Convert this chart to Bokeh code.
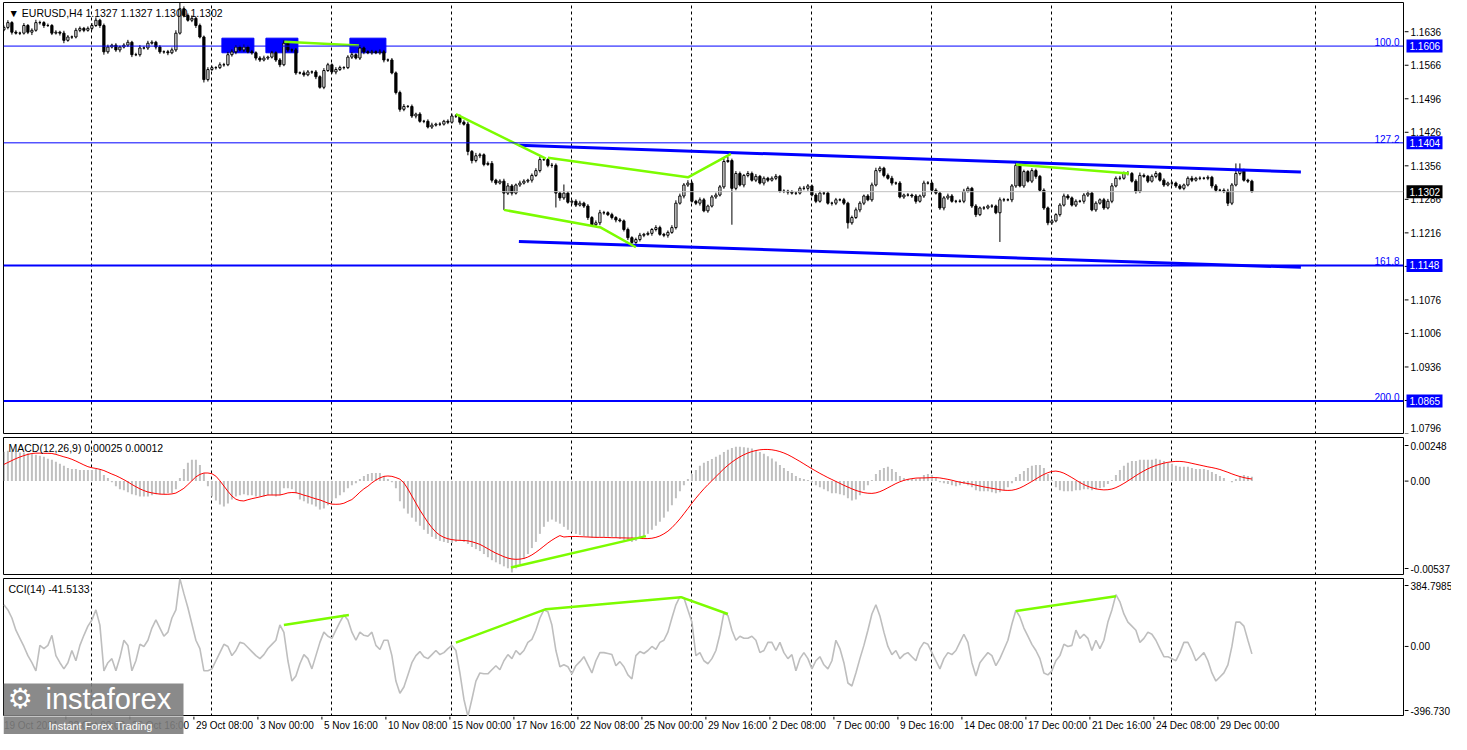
from bokeh.plotting import figure
from bokeh.models import Range1d, FixedTicker, Span, Label
from bokeh.layouts import column, row
from bokeh.core.properties import value
from bokeh.embed import file_html
from bokeh.resources import INLINE

# ---------------- data (prices as pips above 1.1000) ----------------
first_open_pips = 640
close_pips = [
    645,655,635,633,633,649,635,639,655,655,649,649,633,635,633,618,625,625,639,643,
    639,643,649,660,649,594,604,608,598,604,608,614,588,588,602,602,612,614,604,594,
    594,592,598,633,684,670,660,664,649,625,536,557,561,561,567,567,588,594,604,598,
    604,594,592,581,577,581,583,592,577,567,612,598,598,550,550,546,552,552,542,520,
    555,567,552,557,561,561,583,588,581,602,594,592,594,592,594,577,577,550,509,474,
    480,480,460,464,449,449,437,441,443,443,449,447,460,460,447,443,386,367,377,379,
    359,361,326,320,324,299,314,299,316,320,324,326,336,346,369,369,357,357,299,289,
    299,280,282,274,278,272,248,233,237,258,258,254,248,243,241,223,206,196,202,211,
    213,215,223,227,213,211,217,227,278,293,316,320,282,278,285,262,272,291,295,312,
    365,367,309,340,316,336,340,326,334,320,330,326,330,334,303,303,301,299,299,309,
    309,314,295,282,299,299,278,278,285,285,278,237,248,264,278,293,285,316,346,351,
    336,330,320,320,291,295,295,293,282,293,320,320,305,299,268,289,293,282,282,282,
    303,309,272,254,268,268,272,272,258,285,285,285,314,357,314,344,324,346,334,305,
    268,237,241,254,274,293,289,274,282,282,295,299,264,278,285,268,282,314,330,330,
    340,340,324,303,336,334,324,334,340,326,316,320,320,314,309,316,330,326,330,330,
    330,332,314,305,305,303,278,316,340,346,326,324,302]
upper_wick_pips = [
    4,5,3,4,3,5,3,4,6,4,3,4,3,4,3,5,4,3,5,4,
    3,4,5,6,3,4,5,3,4,3,4,5,3,4,6,3,5,4,3,4,
    3,4,5,6,12,5,4,6,3,4,3,5,4,3,5,4,6,5,4,3,
    5,3,4,3,4,5,3,4,3,4,6,5,3,4,3,5,4,3,4,3,
    5,4,3,5,4,3,4,5,3,6,4,3,4,3,5,4,3,4,3,4,
    5,3,4,3,4,3,4,5,3,4,3,4,5,4,3,4,5,3,6,4,
    3,4,5,3,4,5,6,4,3,5,4,3,4,5,6,4,3,5,4,3,
    18,4,3,4,5,3,4,3,5,6,4,3,4,3,4,3,4,3,4,5,
    3,4,3,5,4,3,4,5,6,5,4,6,4,3,5,4,3,4,5,4,
    6,8,4,5,4,3,5,4,5,3,4,3,4,5,3,4,3,4,3,4,
    5,4,3,4,5,3,4,3,4,3,4,3,4,5,4,3,4,5,6,4,
    3,4,5,3,4,3,4,3,4,3,5,4,3,4,3,4,5,4,3,4,
    5,4,3,4,3,4,3,4,3,5,4,3,4,6,5,4,3,5,4,3,
    4,3,4,3,4,5,4,3,4,3,4,5,3,4,3,4,5,6,4,5,
    4,5,3,4,6,4,3,4,5,3,4,3,4,3,4,3,4,5,3,4,
    3,4,3,4,3,4,5,4,21,15,4,3,3]
lower_wick_pips = [
    3,4,5,3,4,3,4,6,3,4,5,3,4,3,5,6,3,4,3,4,
    4,3,4,3,5,6,4,3,4,5,3,4,5,3,4,3,4,3,5,4,
    4,5,3,4,3,4,3,4,5,3,6,4,3,4,3,4,3,4,5,3,
    4,3,4,5,4,3,4,3,4,5,3,4,5,4,3,4,3,4,5,3,
    4,3,4,5,3,4,3,4,3,4,5,3,4,3,4,5,4,3,4,5,
    4,3,4,5,3,4,3,4,3,4,3,4,3,4,5,3,8,6,4,5,
    4,3,5,4,3,35,4,5,3,4,3,4,5,3,4,3,4,5,30,6,
    4,3,5,4,3,4,5,4,3,5,4,3,4,5,3,4,5,4,3,4,
    4,3,5,4,3,4,5,3,4,3,5,4,3,4,5,3,4,3,4,3,
    4,3,76,4,3,5,4,3,4,3,5,4,3,4,3,4,5,3,4,3,
    4,5,3,4,3,4,3,5,4,3,4,12,4,3,5,4,3,4,3,4,
    4,3,5,4,3,4,3,4,5,3,4,3,4,3,4,5,4,3,4,3,
    4,3,4,5,3,4,3,4,3,61,4,3,5,4,3,4,3,4,5,3,
    4,5,4,3,4,3,4,3,4,3,5,4,3,4,3,4,3,4,3,4,
    3,4,3,5,4,3,4,3,4,3,4,3,5,4,3,4,3,4,3,4,
    3,4,5,4,3,4,6,4,3,4,3,4,2]

# MACD (units of 1e-5)
macd_main_e5 = [
    167,173,173,167,162,162,159,156,150,144,138,127,121,110,98,87,75,69,69,63,
    63,63,63,69,69,35,17,-6,-29,-46,-52,-63,-75,-81,-87,-87,-87,-81,-75,-75,
    -75,-69,-69,-46,17,69,104,121,121,92,46,-29,-87,-110,-133,-144,-127,-104,-87,-81,
    -75,-81,-81,-87,-87,-87,-81,-81,-87,-81,-40,-40,-46,-69,-104,-115,-127,-133,-144,-162,
    -156,-138,-115,-98,-81,-63,-40,-23,-12,12,29,40,46,46,46,29,12,-6,-40,-115,
    -156,-185,-208,-231,-254,-277,-300,-317,-329,-340,-346,-352,-352,-346,-340,-346,-358,-375,-387,-398,
    -415,-433,-450,-462,-473,-485,-496,-520,-496,-473,-444,-415,-381,-346,-300,-260,-231,-219,-231,-242,
    -260,-277,-288,-300,-306,-312,-317,-323,-323,-317,-317,-317,-317,-323,-329,-335,-340,-346,-340,-329,
    -317,-300,-277,-254,-231,-208,-173,-138,-98,-58,-23,12,40,63,87,104,115,125,138,150,
    165,178,188,195,196,193,190,185,176,166,156,142,128,112,92,75,58,46,29,17,
    12,6,-6,-23,-35,-46,-58,-69,-69,-75,-81,-98,-110,-104,-81,-52,-23,6,40,63,
    75,81,69,52,29,17,12,12,12,17,35,40,35,17,-6,-12,-17,-23,-29,-23,
    -17,-23,-35,-52,-58,-58,-58,-63,-69,-63,-52,-35,-12,23,40,58,75,87,92,92,
    75,40,6,-35,-52,-58,-58,-58,-52,-52,-46,-46,-52,-46,-40,-35,-17,6,35,63,
    87,104,115,115,121,121,121,121,127,121,115,104,98,87,81,81,81,75,69,69,
    69,63,52,40,29,17,0,-6,12,29,35,29,25]
macd_signal_e5 = [
    95,106,117,128,137,145,152,157,159,159,158,158,157,152,145,138,132,124,114,103,
    92,82,76,72,67,60,50,40,31,20,8,-5,-19,-32,-44,-54,-62,-67,-71,-74,
    -75,-75,-73,-68,-55,-41,-20,2,24,38,46,46,42,28,2,-28,-58,-85,-103,-111,
    -113,-106,-100,-95,-90,-84,-79,-79,-79,-79,-74,-67,-65,-66,-72,-80,-86,-94,-101,-107,
    -116,-125,-131,-132,-131,-126,-115,-105,-85,-63,-44,-29,-10,6,18,27,29,27,20,11,
    -10,-45,-85,-125,-165,-200,-235,-265,-290,-308,-320,-328,-333,-336,-337,-338,-340,-345,-352,-360,
    -372,-385,-398,-410,-420,-430,-438,-443,-445,-444,-440,-432,-420,-405,-388,-370,-352,-336,-322,-310,
    -318,-316,-315,-315,-316,-317,-318,-319,-320,-320,-320,-321,-322,-322,-323,-323,-324,-324,-325,-326,
    -327,-327,-325,-320,-312,-300,-285,-265,-241,-215,-186,-156,-126,-97,-70,-44,-20,2,25,48,
    70,90,108,124,138,150,160,168,174,178,180,180,178,174,168,160,150,138,125,112,
    98,84,70,57,44,32,20,9,-2,-13,-24,-34,-44,-53,-60,-66,-69,-70,-67,-60,
    -50,-38,-26,-14,-4,4,10,14,17,18,18,19,20,20,18,14,10,5,-1,-6,
    -10,-14,-18,-23,-28,-33,-37,-41,-45,-49,-52,-53,-52,-47,-39,-28,-15,-2,12,26,
    38,48,55,57,53,45,33,20,6,-8,-20,-30,-38,-44,-48,-50,-49,-45,-37,-26,
    -13,1,16,31,45,58,70,80,89,96,102,107,110,112,112,110,106,101,96,91,
    86,81,77,72,66,58,50,41,33,26,20,15,12]

cci_values = [
    236,207,161,92,46,0,-52,-92,-138,6,-12,6,63,-52,-92,-127,-92,-23,-81,6,
    63,115,150,207,121,-138,-92,-69,-138,-63,35,6,-138,-81,12,0,35,104,150,104,
    58,81,161,207,384,299,219,127,35,-12,-138,-138,-127,-81,-35,12,0,-52,-23,23,
    17,-6,-29,-52,-69,-46,-12,12,35,122,80,-81,-196,-167,-98,-46,-69,-127,-52,23,
    81,58,46,92,138,178,150,81,35,81,63,58,81,6,-17,35,35,-52,-196,-265,
    -230,-161,-92,-52,-29,-58,-69,-46,-23,-46,-35,-12,6,-23,-150,-299,-396,-299,-196,-150,
    -155,-155,-132,-109,-132,-81,-46,-69,-23,-46,-23,23,40,92,161,207,196,121,-23,-115,
    -104,-115,-155,-109,-86,-58,-104,-150,-81,-35,-35,-40,-46,-109,-86,-115,-161,-184,-52,-29,
    -40,-23,0,-17,23,35,81,161,236,282,276,207,138,-52,-35,-81,-98,-69,-23,69,
    190,175,92,35,58,46,46,58,35,-35,-23,23,23,-23,23,-35,-69,-46,-138,-69,
    -35,-69,-127,-81,-58,-104,-127,-81,35,-12,-92,-207,-224,-150,-69,6,92,184,236,173,
    81,0,-46,-23,-69,-46,-35,-58,-81,-12,23,12,-35,-81,-127,-69,-35,-46,-23,23,
    69,23,-92,-167,-92,-63,-35,-52,-109,-69,-17,35,127,205,167,104,58,12,-23,-69,
    -150,-161,-138,-81,-52,12,0,6,92,46,69,46,-23,35,-12,35,138,207,293,253,
    184,138,115,92,23,46,81,69,35,-12,-58,-58,-69,-81,-35,23,23,-23,-81,-58,
    -35,-81,-150,-196,-173,-150,-104,0,138,138,115,35,-42]

price_ticks = [1.0796, 1.0866, 1.0936, 1.1006, 1.1076, 1.1146, 1.1216,
               1.1286, 1.1356, 1.1426, 1.1496, 1.1566, 1.1636]
fib_levels = [1.1606, 1.1404, 1.1148, 1.0865]
fib_names = ["100.0", "127.2", "161.8", "200.0"]
current_price = 1.1302
macd_lo, macd_hi = -0.00537, 0.00248
cci_lo, cci_hi = -396.730, 384.7985
title_text = "\u25BC EURUSD,H4  1.1327 1.1327 1.1300 1.1302"
macd_title = "MACD(12,26,9) 0.00025 0.00012"
cci_title = "CCI(14) -41.5133"

date_labels = ["19 Oct 2021", "22 Oct 00:00", "26 Oct 16:00", "29 Oct 08:00", "3 Nov 00:00",
               "5 Nov 16:00", "10 Nov 08:00", "15 Nov 00:00", "17 Nov 16:00", "22 Nov 08:00",
               "25 Nov 00:00", "29 Nov 16:00", "2 Dec 08:00", "7 Dec 00:00", "9 Dec 16:00",
               "14 Dec 08:00", "17 Dec 00:00", "21 Dec 16:00", "24 Dec 08:00", "29 Dec 00:00"]
day_grid_bars = [22, 52, 82, 112, 142, 172, 202, 232, 262, 292, 328]

zone_left_bars = [55, 66, 87]
zone_right_bars = [62, 73, 95]
zone_top, zone_bottom = 1.16225, 1.1592

green_price_lines = [
    ([70.1, 88.75], [1.1615, 1.1607]),
    ([113, 135.5], [1.1464, 1.1371]),
    ([136, 171, 181.75], [1.1373, 1.1332, 1.1381]),
    ([125, 149.25, 158], [1.1264, 1.1227, 1.1186]),
    ([253, 281.25], [1.1359, 1.1340]),
]
channel_upper = ([128.75, 324.25], [1.1399, 1.1343])
channel_lower = ([128.75, 324.25], [1.1198, 1.1144])
macd_green = ([126.75, 160.5], [-0.00492, -0.00313])
cci_green_lines = [
    ([70, 86.25], [122, 178]),
    ([113, 135.5, 169.25, 181], [22, 211, 279, 184]),
    ([253, 278], [200, 284]),
]
watermark_name = "instaforex"
watermark_tagline = "Instant Forex Trading"

# ---------------- derived ----------------
n = len(close_pips)
assert len(upper_wick_pips) == n and len(lower_wick_pips) == n
assert len(macd_main_e5) == n and len(macd_signal_e5) == n and len(cci_values) == n
idx = list(range(n))
opens = [first_open_pips] + close_pips[:-1]
to_price = lambda p: 1.1 + p / 10000.0
o = [to_price(v) for v in opens]
c = [to_price(v) for v in close_pips]
hi = [to_price(max(a, b) + w) for a, b, w in zip(opens, close_pips, upper_wick_pips)]
lo = [to_price(min(a, b) - w) for a, b, w in zip(opens, close_pips, lower_wick_pips)]
body_top = [max(a, b) for a, b in zip(o, c)]
body_bot = [min(a, b) for a, b in zip(o, c)]
body_fill = ["white" if b > a else "black" for a, b in zip(o, c)]
macd_main = [v * 1e-5 for v in macd_main_e5]
macd_signal = [v * 1e-5 for v in macd_signal_e5]

# ---------------- layout constants ----------------
FONT = "Liberation Sans"
FW = 1400          # main frame width
SW = 47            # price-scale strip width
BAR_PX = 4.0
x_start = -0.1
x_end = x_start + FW / BAR_PX
xr = Range1d(x_start, x_end)
BLUE = "#0000FF"
GREEN = "#7CFC00"
WM_GRAY = "#7d7d7d"
PH, MH, CH, DH = 432, 138, 138, 18


def main_fig(h, yr, top):
    p = figure(frame_width=FW, frame_height=h, x_range=xr, y_range=yr,
               x_axis_location=None, y_axis_location=None,
               output_backend="svg", toolbar_location=None,
               min_border_left=3, min_border_right=1, min_border_top=top, min_border_bottom=0)
    p.background_fill_color = "white"
    p.border_fill_color = "white"
    p.outline_line_color = "black"
    p.outline_line_width = 1
    p.ygrid.visible = False
    p.xgrid.ticker = FixedTicker(ticks=day_grid_bars)
    p.xgrid.grid_line_color = "black"
    p.xgrid.grid_line_dash = "3 3"
    p.xgrid.grid_line_width = 1
    return p


def scale_fig(h, yr, top, ticks, labels):
    s = figure(frame_width=SW, frame_height=h, x_range=Range1d(0, SW), y_range=yr,
               x_axis_location=None, y_axis_location=None,
               output_backend="svg", toolbar_location=None,
               min_border_left=0, min_border_right=0, min_border_top=top, min_border_bottom=0)
    s.outline_line_color = None
    s.xgrid.visible = False
    s.ygrid.visible = False
    s.background_fill_color = "white"
    s.border_fill_color = "white"
    s.segment(x0=[0] * len(ticks), x1=[4] * len(ticks), y0=ticks, y1=ticks,
              line_color="black", line_width=1)
    s.text(x=[6] * len(ticks), y=ticks, text=labels, text_align="left",
           text_baseline="middle", text_font=value(FONT), text_font_size=value("10px"),
           text_color="black")
    return s


def title(p, y, txt):
    p.add_layout(Label(x=x_start, y=y, x_offset=5, y_offset=-4, text=txt,
                       text_baseline="top", text_font_size="10.5px", text_font=FONT,
                       text_color="black"))


# ---------------- price panel ----------------
pyr = Range1d(1.0795, 1.1697)
ppx = (pyr.end - pyr.start) / PH
p1 = main_fig(PH, pyr, 2)
p1.quad(left=[v - 0.5 for v in zone_left_bars], right=[v + 0.5 for v in zone_right_bars],
        top=[zone_top] * len(zone_left_bars), bottom=[zone_bottom] * len(zone_left_bars),
        fill_color=BLUE, line_color=BLUE)
p1.add_layout(Span(location=current_price, dimension="width", line_color="#C0C0C0", line_width=1))
for lvl, w in zip(fib_levels, [1, 1, 2, 2]):
    p1.add_layout(Span(location=lvl, dimension="width", line_color=BLUE, line_width=w))
p1.segment(x0=idx, y0=lo, x1=idx, y1=hi, line_color="black", line_width=1)
p1.vbar(x=idx, width=0.55, top=body_top, bottom=body_bot, fill_color=body_fill,
        line_color="black", line_width=1)
for xs, ys in [channel_upper, channel_lower]:
    p1.line(xs, ys, line_color=BLUE, line_width=3)
for xs, ys in green_price_lines:
    p1.line(xs, ys, line_color=GREEN, line_width=2.5)
for lvl, name in zip(fib_levels, fib_names):
    p1.add_layout(Label(x=x_end, y=lvl, x_offset=-4, text=name, text_align="right",
                        text_baseline="bottom", text_color=BLUE, text_font_size="10px",
                        text_font=FONT))
title(p1, pyr.end, title_text)

visible_price_ticks = [t for t in price_ticks if t > pyr.start + 0.0012]
s1 = scale_fig(PH, pyr, 2, visible_price_ticks, [f"{t:.4f}" for t in visible_price_ticks])
# bottom tick label sits on the panel edge: keep it whole by lifting it slightly
bottom_tick = min(price_ticks)
s1.segment(x0=[0], x1=[4], y0=[bottom_tick], y1=[bottom_tick], line_color="black")
s1.text(x=[6], y=[pyr.start + 3 * ppx], text=[f"{bottom_tick:.4f}"], text_align="left",
        text_baseline="bottom", text_font=value(FONT), text_font_size=value("10px"),
        text_color="black")
box_levels = fib_levels + [current_price]
box_colors = [BLUE] * len(fib_levels) + ["black"]
s1.rect(x=[20] * len(box_levels), y=box_levels, width=36, height=13, height_units="screen",
        fill_color=box_colors, line_color=None)
s1.text(x=[5] * len(box_levels), y=box_levels, text=[f"{v:.4f}" for v in box_levels],
        text_align="left", text_baseline="middle", text_font=value(FONT),
        text_font_size=value("10px"), text_color="white")

# ---------------- MACD panel ----------------
myr = Range1d(macd_lo, macd_hi)
mu = (macd_hi - macd_lo) / MH
p2 = main_fig(MH, myr, 3)
p2.vbar(x=idx, width=0.5, top=macd_main, bottom=0, fill_color="#C0C0C0", line_color=None)
p2.line(idx, macd_signal, line_color="red", line_width=1)
p2.line(macd_green[0], macd_green[1], line_color=GREEN, line_width=2.5)
title(p2, macd_hi, macd_title)
s2 = scale_fig(MH, myr, 3, [macd_hi - 8 * mu, 0.0, macd_lo + 7 * mu],
               [f"{macd_hi:.5f}", "0.00", f"{macd_lo:.5f}"])

# ---------------- CCI panel ----------------
cyr = Range1d(cci_lo, cci_hi)
cu = (cci_hi - cci_lo) / CH
p3 = main_fig(CH, cyr, 3)
p3.line(idx, cci_values, line_color="#BEBEBE", line_width=1.6)
for xs, ys in cci_green_lines:
    p3.line(xs, ys, line_color=GREEN, line_width=2.5)
title(p3, cci_hi, cci_title)
s3 = scale_fig(CH, cyr, 3, [cci_hi - 7 * cu, 0.0, cci_lo + 6 * cu],
               ["384.7985", "0.00", "-396.730"])

# ---------------- time scale strip ----------------
p4 = figure(frame_width=FW, frame_height=DH, x_range=xr, y_range=Range1d(0, DH),
            x_axis_location=None, y_axis_location=None, output_backend="svg",
            toolbar_location=None, min_border_left=3, min_border_right=1 + SW,
            min_border_top=0, min_border_bottom=0)
p4.outline_line_color = None
p4.xgrid.visible = False
p4.ygrid.visible = False
p4.background_fill_color = "white"
p4.border_fill_color = "white"
date_tick_bars = [16 * k - 0.5 for k in range(len(date_labels))]
p4.segment(x0=date_tick_bars, x1=date_tick_bars, y0=[DH] * len(date_tick_bars),
           y1=[DH - 3] * len(date_tick_bars), line_color="black", line_width=1)
p4.text(x=[t + 0.5 for t in date_tick_bars], y=[DH - 3] * len(date_tick_bars), text=date_labels,
        text_align="left", text_baseline="top", text_font=value(FONT),
        text_font_size=value("10px"), text_color="black")

# ---------------- watermark (box spans CCI panel bottom and time strip) ----------------
WM_W = 180 / BAR_PX
p3.quad(left=[x_start], right=[x_start + WM_W], bottom=[cci_lo - 20 * cu],
        top=[cci_lo + 33 * cu], fill_color=WM_GRAY, fill_alpha=0.9, line_color=None)
p4.quad(left=[x_start], right=[x_start + WM_W], bottom=[-5], top=[DH + 5],
        fill_color=WM_GRAY, fill_alpha=0.9, line_color=None)
p3.text(x=[x_start + 42 / BAR_PX], y=[cci_lo + 2 * cu], text=[watermark_name], text_align="left",
        text_baseline="bottom", text_font=value(FONT), text_font_size=value("29px"),
        text_color="white")
p3.text(x=[x_start + 4 / BAR_PX], y=[cci_lo + 2 * cu], text=["\u2699"], text_align="left",
        text_baseline="bottom", text_font=value("DejaVu Sans"),
        text_font_size=value("28px"), text_color="white")
p4.text(x=[x_start + 45 / BAR_PX], y=[DH - 3], text=[watermark_tagline], text_align="left",
        text_baseline="top", text_font=value(FONT), text_font_size=value("11px"),
        text_color="white")

layout = column(row(p1, s1, spacing=0), row(p2, s2, spacing=0), row(p3, s3, spacing=0), p4,
                spacing=0)
open("out.html", "w").write(file_html(layout, INLINE))
